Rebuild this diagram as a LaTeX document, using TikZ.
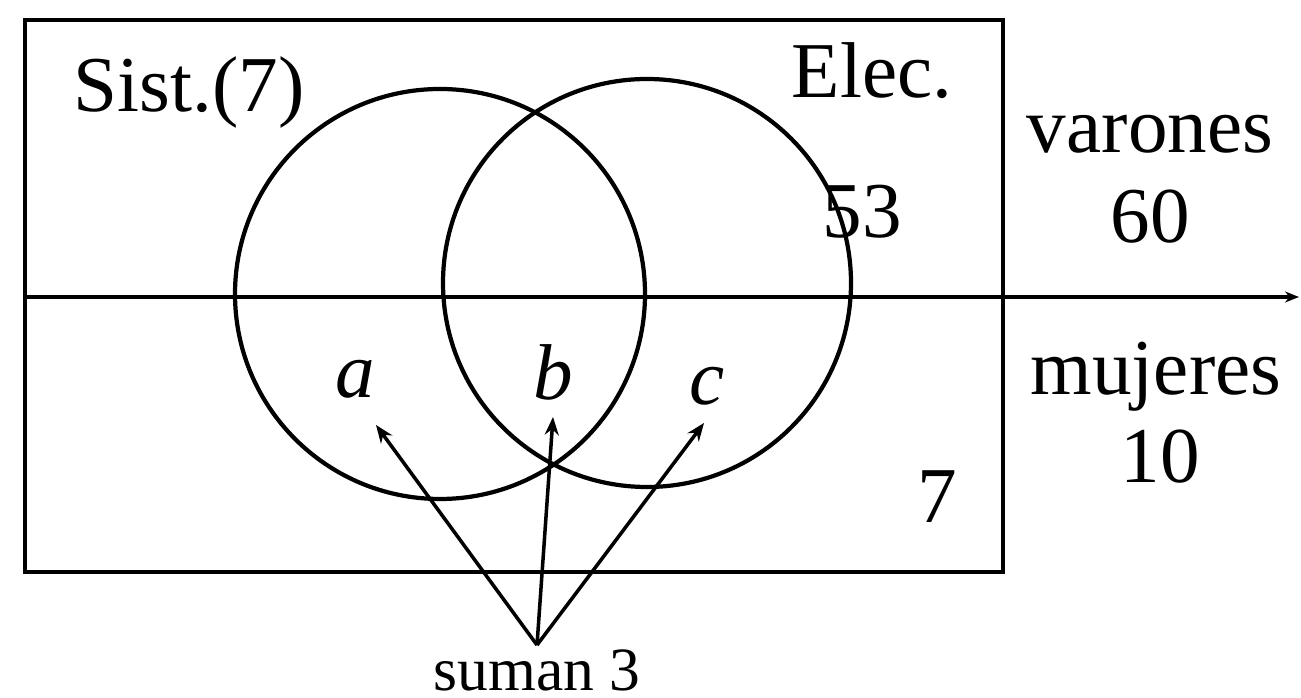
\documentclass[tikz,border=0pt]{standalone}
\usepackage{fontspec}
\setmainfont{Liberation Serif}
\usetikzlibrary{arrows.meta}

\begin{document}
\begin{tikzpicture}[
  x=0.01cm, y=-0.01cm,
  lbl/.style={font=\fontsize{22.5}{27}\selectfont, inner sep=0pt, anchor=base},
  var/.style={lbl, font=\fontsize{22.5}{27}\selectfont\itshape},
  small/.style={font=\fontsize{17.5}{20}\selectfont, inner sep=1pt, anchor=base},
  set/.style={line width=1.2pt},
  ptr/.style={-{Stealth[length=1.8mm, width=1.4mm]}, line width=1pt}
]
\useasboundingbox (0,0) rectangle (1301,698);

% universe and the split varones / mujeres
\draw[line width=1.3pt] (25,20) rectangle (1003,572);
\draw[line width=1.1pt, -{Stealth[length=1.4mm, width=1.1mm]}] (25,297) -- (1299,297);

% the two sets
\draw[set] (440,294) circle[radius=205];
\draw[set] (647,283) circle[radius=204];

% labels
\node[lbl, anchor=base west] (sist) at (73,112) {Sist.(7)};
\node[lbl, anchor=base east] (elec) at (953,98) {Elec.};
\node[lbl] (n53) at (862,238) {53};
\node[lbl] (var) at (1150,153) {varones};
\node[lbl] (v60) at (1150,243) {60};
\node[lbl] (muj) at (1156,395) {mujeres};
\node[lbl] (m10) at (1160,483) {10};
\node[lbl] (n7) at (937,523) {7};

\node[var] (a) at (355,398) {a};
\node[var] (b) at (553,400) {b};
\node[var] (c) at (707,405) {c};

\node[small] (sum) at (537,690) {suman 3};

% arrow ends below a, b, c
\coordinate (ta) at (376,425);
\coordinate (tb) at (553,417);
\coordinate (tc) at (704,423);

\foreach \t in {ta, tb, tc}
  \draw[ptr] (sum.north) -- (\t);
\end{tikzpicture}
\end{document}
